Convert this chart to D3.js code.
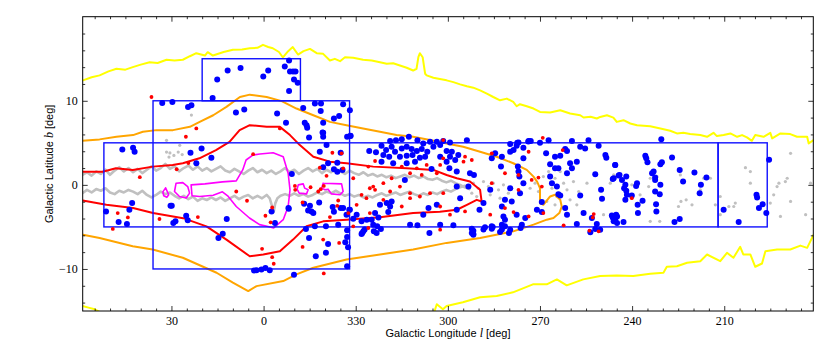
<!DOCTYPE html>
<html>
<head>
<meta charset="utf-8">
<script src="https://cdn.jsdelivr.net/npm/d3@7"></script>
<style>
  body { margin: 0; background: #fff; }
  .tick text { font-family: "Liberation Serif", serif; font-size: 12px; fill: #000; }
  .tick line { stroke: #000; stroke-width: 0.8; }
  .axis-title { font-family: "Liberation Sans", Arial, sans-serif; font-size: 11px; fill: #000; }
</style>
</head>
<body>
<div id="chart"></div>
<script>
// galactic longitude is stored signed: -30 means 330
const lonTicks = [30, 0, -30, -60, -90, -120, -150];
const lonLabels = ["30", "0", "330", "300", "270", "240", "210"];
const latTicks = [-10, 0, 10];
const latLabels = ["\u221210", "0", "10"];

// survey boxes [l0, l1, b0, b1]
const boxes = [
  [20, -12, 10, 15],
  [36, -28, -10, 10],
  [52, -148, -5, 5],
  [-148, -164, -5, 5],
];

const yellowUpper = [
  [58.8,12.43],[56,12.8],[53.4,13.02],[50.5,13.5],[47.9,13.81],[45,13.7],[42.6,14.0],[40,14.3],[37.1,14.59],
  [34.5,14.5],[31.6,14.88],[29,14.8],[26.3,14.88],[24,15.3],[21.9,15.66],[19.1,15.38],[18.2,15.78],[16.5,15.38],
  [13,15.8],[10.0,16.06],[7,16.1],[4.5,16.25],[2,16.3],[0.2,16.65],[-1.5,16.4],[-3.0,16.25],[-5,15.8],[-6.3,15.15],
  [-8,15.9],[-9.5,16.39],[-11.2,15.5],[-13,15.9],[-15.1,16.17],[-17.3,15.66],[-19.4,15.58],[-21.6,14.79],
  [-23.2,14.99],[-24.9,14.71],[-26.5,15.18],[-29.2,15.11],[-32.4,14.87],[-35.2,14.79],[-37.9,14.59],[-40.1,14.4],
  [-42.2,14.47],[-44.4,14.2],[-46.6,13.93],[-48.7,13.6],[-49.8,13.81],[-50.4,15.18],[-50.9,15.66],[-51.8,15.18],
  [-52.6,13.22],[-53.1,13.02],[-55.3,12.74],[-57.4,12.58],[-59.6,12.43],[-61.8,12.22],[-64.0,11.95],[-66.2,11.72],
  [-68.3,11.56],[-70.5,11.24],[-72.7,10.85],[-74.8,10.45],[-77.0,10.06],[-79.2,10.26],[-81.3,9.86],[-82.4,9.35],
  [-83.5,9.59],[-85.7,9.35],[-87.9,9.08],[-90.0,8.67],[-93.3,8.6],[-96.6,8.88],[-99.8,8.49],[-103.1,8.28],
  [-104.2,8.01],[-106.5,8.1],[-108.5,7.89],[-109.6,8.08],[-111.8,8.28],[-113.9,8.0],[-115.0,7.49],[-117.2,7.69],
  [-119.4,7.30],[-121.6,7.10],[-125.9,6.98],[-129.2,6.71],[-132.4,6.43],[-134.6,6.12],[-136.7,6.19],[-138.9,6.04],
  [-142.2,5.92],[-144.4,5.72],[-146.5,6.19],[-147.6,5.80],[-149.8,5.92],[-152.0,6.12],[-154.2,5.72],[-155.8,5.92],
  [-157.4,5.64],[-159.0,5.24],[-160.1,5.92],[-162.8,5.72],[-165.0,6.19],[-165.6,5.53],[-168.3,6.12],[-171.5,6.04],
  [-173.7,5.72],[-177.0,5.72],[-177.5,4.93],[-179.1,5.33],
];

const yellowLowerEast = [[59.0,-14.4],[57,-14.6],[55.0,-14.8],[53.4,-15.1]];

const yellowLowerWest = [
  [-55.5,-15.2],[-56.4,-14.2],[-58.4,-14.8],[-59.6,-14.4],[-64.9,-13.96],[-70.5,-13.37],[-75.9,-13.22],[-81.2,-12.78],
  [-87.7,-11.83],[-92.2,-11.83],[-95.5,-11.24],[-98.7,-11.95],[-104.1,-11.24],[-109.6,-10.85],[-115.0,-10.77],
  [-120.4,-10.85],[-125.9,-10.57],[-130.2,-10.45],[-131.3,-9.74],[-134.6,-9.67],[-137.9,-9.27],[-142.2,-9.08],
  [-144.4,-8.28],[-148.7,-9.08],[-150.9,-8.08],[-153.0,-8.67],[-155.2,-7.37],[-156.2,-8.28],[-158.5,-8.28],
  [-160.1,-9.74],[-162.3,-9.35],[-163.4,-7.89],[-167.2,-7.69],[-171.5,-7.69],[-174.8,-7.22],[-177.0,-7.49],[-179.1,-5.92],
];

const orangeContour = [
  [59.0,5.24],[53.4,5.41],[47.9,5.72],[42.5,5.92],[39.3,6.31],[34.9,6.51],[29.5,6.51],[24.0,6.90],[20.8,7.49],
  [16.4,8.28],[12.1,9.27],[7.7,10.45],[4.5,10.73],[-1.0,10.45],[-5.9,9.96],[-10.7,9.08],[-16.2,8.28],[-21.6,7.49],
  [-27.0,7.10],[-32.4,6.71],[-37.9,6.31],[-43.3,5.92],[-48.7,5.72],[-54.2,5.33],[-59.6,4.93],[-65.0,4.53],
  [-70.5,3.94],[-75.9,3.35],[-81.3,2.57],[-85.7,1.78],[-87.9,0.98],[-89.1,0.36],[-90.0,-0.39],[-90.0,-2.17],
  [-91.1,-2.37],[-93.3,-1.38],[-94.9,-1.18],[-96.6,-1.78],[-97.1,-2.60],[-96.3,-3.35],[-94.4,-3.94],[-92.2,-4.14],
  [-87.9,-4.73],[-81.3,-5.53],[-70.5,-6.31],[-59.6,-6.90],[-48.7,-7.69],[-37.9,-8.28],[-27.0,-8.88],[-16.2,-9.86],
  [-10.7,-10.65],[-6.4,-11.44],[2.3,-12.04],[5.0,-12.63],[10.0,-11.63],[15.3,-10.45],[26.3,-8.67],[36.1,-7.69],
  [42.6,-7.30],[53.4,-6.31],[58.8,-5.92],
];

const redContour = [
  [58.9,1.57],[52.4,1.57],[48.1,1.98],[42.6,1.78],[36.1,2.17],[29.6,2.37],[26.3,2.57],[20.9,3.16],[15.5,4.14],
  [11.1,5.12],[7.8,6.51],[4.5,7.10],[-1.0,6.90],[-5.3,6.90],[-8.6,5.92],[-11.8,4.73],[-16.2,3.35],[-21.6,2.76],
  [-27.0,2.57],[-35.7,2.17],[-46.6,1.98],[-55.3,1.78],[-59.6,1.18],[-62.9,0.79],[-67.2,0.39],[-70.5,-0.59],
  [-71.0,-1.98],[-69.4,-1.78],[-66.2,-2.37],[-62.9,-2.96],[-57.4,-3.20],[-48.7,-3.35],[-37.9,-3.85],[-27.0,-4.14],
  [-19.4,-4.34],[-14.0,-4.93],[-9.6,-6.51],[-5.3,-7.89],[0.1,-8.28],[4.5,-8.49],[12.1,-6.51],[18.6,-4.93],
  [26.2,-3.96],[36.0,-3.35],[42.5,-2.76],[51.2,-2.37],[58.9,-1.86],
];

const magentaMain = [
  [23.6,0.0],[19.1,0.12],[13.4,0.36],[8.9,0.47],[6.8,1.78],[5.7,2.96],[3.5,3.55],[1.2,3.67],[-3.1,3.82],
  [-6.4,3.35],[-8.0,1.38],[-8.6,-0.59],[-8.0,-2.57],[-6.4,-4.14],[-3.3,-5.12],[-1.1,-4.93],[1.3,-4.73],
  [4.6,-3.94],[8.9,-2.57],[11.7,-1.30],[13.4,-0.83],[16.4,-1.24],[20.8,-1.38],[23.3,-1.30],[23.6,0.0],
];

const magentaLoops = [
  [[31.9,-0.36],[30.9,-1.18],[31.5,-1.48],[32.5,-1.30],[32.8,-0.83],[31.9,-0.36]],
  [[28.5,0.20],[26.3,0.27],[24.7,-0.20],[24.1,-0.98],[25.2,-1.57],[27.4,-1.38],[29.0,-0.79],[28.5,0.20]],
  [[-11.3,0.0],[-12.9,0.12],[-13.4,-0.39],[-14.5,-0.59],[-14.0,-1.07],[-11.6,-0.98],[-10.9,-0.51],[-11.3,0.0]],
  [[-19.4,0.2],[-25.4,0.12],[-25.9,-0.79],[-24.9,-1.18],[-22.1,-1.07],[-21.0,-0.51],[-20.0,-0.59],[-18.9,-0.39],[-19.4,0.2]],
];

const greyUpper = [
  [59,1.2],[57.5,1.5],[56,1.1],[54.5,1.6],[53,1.3],[51.5,1.8],[50,1.2],[48.5,1.7],[47,2.1],[45.5,1.6],[44,2.0],
  [42.5,1.5],[41,1.9],[39.5,1.4],[38,1.8],[36.5,2.2],[35,1.7],[33.5,2.0],[32,2.5],[30.5,1.9],[29,2.2],[27.5,1.6],
  [26,2.0],[24.5,2.3],[23,1.8],[21.5,2.2],[20,1.7],[18.5,2.0],[17,1.6],[15.5,1.9],[14,2.2],[12.5,1.7],[11,1.5],
  [9.5,1.9],[8,1.6],[6.5,1.3],[5,1.7],[3.5,2.0],[2,1.5],[0.5,1.8],[-1,1.4],[-2.5,1.7],[-4,1.3],[-5.5,1.6],
  [-7,2.0],[-8.5,1.5],[-10,1.8],[-11.5,1.3],[-13,1.7],[-14.5,2.0],[-16,1.6],[-17.5,1.9],[-19,1.4],[-20.5,1.8],
  [-22,1.5],[-23.5,1.9],[-25,1.6],[-26.5,1.3],[-28,1.7],[-29.5,1.4],[-31,1.2],[-32.5,1.5],[-34,1.1],[-35.5,1.3],
  [-37,1.0],[-38.5,1.2],[-40,0.9],[-41.5,1.1],[-43,0.8],[-44.5,1.0],[-46,1.2],[-47.5,0.9],[-49,1.1],[-50.5,0.8],
  [-52,1.0],[-53.5,0.7],[-55,0.6],[-56.5,0.8],[-58,0.5],[-59.5,0.3],[-61,0.5],[-62.5,0.2],[-64,0.0],[-65.5,-0.3],
  [-67,-0.5],
];

const greyLower = [
  [59,-1.0],[57.5,-0.6],[56,-0.9],[54.5,-0.5],[53,-0.7],[51.5,-0.4],[50,-0.9],[48.5,-1.1],[47,-0.7],[45.5,-0.9],
  [44,-0.6],[42.5,-0.8],[41,-1.1],[39.5,-0.7],[38,-1.2],[36.5,-1.5],[35,-1.2],[33.5,-0.8],[32,-1.1],[30.5,-0.9],
  [29,-1.3],[27.5,-1.6],[26,-1.3],[24.5,-1.7],[23,-1.4],[21.5,-1.9],[20,-1.6],[18.5,-1.8],[17,-1.5],[15.5,-1.8],
  [14,-1.5],[12.5,-1.9],[11,-1.6],[9.5,-1.3],[8,-1.7],[6.5,-1.4],[5,-1.2],[3.5,-1.6],[2,-1.3],[0.5,-1.6],
  [-1,-1.2],[-2,-1.6],[-2.8,-2.6],[-3.3,-3.2],[-3.8,-2.2],[-4.5,-1.6],[-5.5,-1.3],[-7,-1.1],[-8.5,-1.3],
  [-10,-1.0],[-11.5,-1.3],[-13,-1.1],[-14.5,-1.4],[-16,-1.2],[-17.5,-0.9],[-19,-1.1],[-20.5,-0.8],[-22,-1.0],
  [-23.5,-0.7],[-25,-1.0],[-26.5,-1.3],[-28,-1.1],[-29.5,-1.4],[-31,-1.2],[-32.5,-1.5],[-34,-1.3],[-35.5,-1.5],
  [-37,-1.2],[-38.5,-1.0],[-40,-1.3],[-41.5,-1.1],[-43,-0.9],[-44.5,-1.2],[-46,-1.0],[-47.5,-0.8],[-49,-1.1],
  [-50.5,-1.3],[-52,-1.0],[-53.5,-1.2],[-55,-0.9],[-56.5,-1.1],[-58,-0.8],[-59.5,-0.6],[-61,-0.8],[-62.5,-0.5],
  [-64,-0.3],[-65.5,-0.1],[-67,-0.4],
];

const greyPatches = [
  [30.5,3.8],[29.2,3.5],[27.8,3.9],[26.5,3.6],[27.3,4.7],[23.5,8.3],[31.6,5.3],[31.6,3.9],[30.8,3.3],
  [-68.3,0.20],[-69.9,-0.40],[-71.6,0.39],[-73.2,-0.20],[-74.8,0.20],[-76.5,-0.59],[-78.1,0.0],[-79.7,-0.99],
  [-80.8,-0.40],[-67.8,-0.99],[-69.4,-1.38],[-73.8,-1.18],[-77.0,-1.58],[-86.8,-0.40],[-88.4,0.20],[-89.5,-0.79],
  [-91.1,0.99],[-92.8,1.58],[-93.9,-0.40],[-94.9,0.79],[-95.5,-1.38],[-96.6,1.58],[-97.7,0.20],[-98.8,-0.59],
  [-99.8,-1.78],[-100.9,0.39],[-102.0,-2.37],[-102.6,-0.79],[-105.3,0.2],[-110.7,-3.55],[-94.9,-2.37],[-92.2,-1.97],
  [-125.9,0.79],[-125.4,-0.2],[-128.1,0.99],[-135.7,1.18],[-135.9,-1.97],[-135.1,-2.57],[-137.6,-1.78],
  [-139.5,-2.37],[-142.2,-0.59],[-145.5,0.79],[-148.7,-1.38],[-156.9,2.05],[-158.5,1.58],[-158.5,0.20],
  [-153.6,-2.17],[-153.1,-2.57],[-151.5,-2.57],[-167.2,-0.20],[-167.8,0.2],[-170.5,0.79],[-169.9,0.39],
  [-171.6,3.75],[-171.6,-1.97],[-178.1,0.20],[-176.5,-3.55],[-168.3,-3.75],[-166.1,-1.18],[-165.0,-2.17],
  [-119.9,0.0],[-122.6,-1.18],[-125.9,-4.34],[-129.0,-4.34],[-148.7,-3.55],[-147.1,-2.37],[-114.0,1.18],
  [-112.9,0.20],[-143.3,0.79],
];

const blueSources = [
  [15.1,12.54],[11.7,13.6],[7.5,13.89],[0.1,12.9],[-1.5,13.6],[-6.9,14.08],[-8.3,14.79],[-8.6,13.49],[-9.6,13.49],
  [-10.4,13.49],[-9.9,12.54],[-11.1,12.15],[-8.3,11.16],[16.6,10.33],
  [33.0,9.74],[29.7,9.86],[24.6,9.27],[23.5,9.47],[9.0,8.6],[6.3,8.96],[-4.4,8.49],[-7.3,7.38],[-12.9,9.15],
  [-16.7,9.67],[-18.7,9.67],[-18.6,8.8],[-25.9,9.59],[-28.1,8.88],[-13.4,7.38],[-14.0,7.1],[-14.2,6.78],
  [-19.4,7.38],[-19.2,6.23],[-19.4,5.72],[-14.8,5.64],[-22.9,7.89],[-24.6,8.2],[-28.3,5.80],
  [46.0,4.22],[42.5,4.41],[42.0,3.94],[23.8,3.82],[20.2,4.34],[21.9,2.57],[17.0,3.23],[42.8,-2.17],[51.3,-3.16],
  [43.7,-2.96],[47.2,-4.41],[44.5,-4.65],[30.3,-2.49],[29.9,-2.49],[25.2,-3.67],[24.7,-4.22],[28.7,-4.34],
  [29.4,-4.53],[12.0,-4.06],[-9.2,1.3],[-8.1,-2.76],[-2.6,-3.16],[-3.7,-4.53],[-19.4,6.19],[-27.2,5.72],
  [-20.5,4.73],[-18.3,3.94],[-25.1,3.82],[-21.0,2.57],[-24.0,2.64],[-22.9,1.86],[-24.0,1.57],[-25.7,1.78],
  [-19.4,2.09],[-13.2,-2.25],[-14.5,-3.04],[-15.6,-3.16],[-16.2,-3.35],[-18.1,-2.09],[-15.1,-2.49],[-22.5,-2.64],
  [-22.9,-3.20],[-25.1,-2.76],[-27.9,-2.96],[-8.2,-2.84],[-13.8,-5.24],[-16.7,-4.93],[-20.3,-4.93],[-24.3,-4.73],
  [-27.2,-5.40],
  [13.3,-5.80],[14.7,-6.31],[-14.8,-6.31],[-21.0,-7.02],[-27.2,-6.19],[-26.6,-6.83],[-27.5,-7.42],[-17.0,-8.49],
  [-20.3,-8.08],[-27.2,-9.67],[2.3,-10.14],[0.7,-10.06],[-0.6,-9.9],[-2.0,-10.14],[3.1,-10.18],[-9.9,-10.68],
  [-28.3,5.84],[-41.2,5.21],[-43.1,5.32],[-45.0,5.44],[-47.3,5.72],[-50.1,5.32],[-52.0,4.93],[-54.2,5.13],
  [-56.4,5.13],[-58.5,5.21],[-60.7,5.05],[-66.2,5.32],[-38.4,4.65],[-39.9,4.14],[-41.7,4.54],[-42.8,3.94],
  [-45.0,4.34],[-46.6,4.54],[-48.2,4.26],[-49.9,4.02],[-51.5,4.26],[-53.3,3.94],[-55.3,4.54],[-57.5,4.73],
  [-59.6,4.02],[-61.3,3.94],[-63.4,3.55],[-34.4,4.02],[-36.6,3.87],[-39.0,3.55],[-40.9,3.35],[-44.4,3.35],
  [-46.6,3.47],[-48.5,3.55],[-50.9,3.23],[-52.6,3.35],[-57.5,3.35],[-60.7,3.35],[-62.4,2.96],[-38.4,2.76],
  [-42.2,2.56],[-46.6,2.56],[-49.3,2.76],[-54.7,1.89],[-59.6,2.76],[-60.5,1.97],[-46.0,0.59],[-62.9,1.58],
  [-67.2,1.38],[-66.7,-0.20],[-62.9,-0.20],[-64.0,-1.58],[-56.4,-2.37],[-53.7,-2.76],[-62.9,-2.96],[-41.2,-2.57],
  [-40.1,-2.17],[-41.7,-1.97],[-37.9,-2.37],[-40.6,-3.24],[-36.3,-3.35],[-37.4,-3.87],[-35.2,-4.14],[-33.6,-4.14],
  [-31.9,-4.34],[-30.3,-3.55],[-29.2,-4.02],[-28.1,-2.96],[-25.9,-2.76],[-35.7,-4.74],[-37.0,-4.93],[-32.5,-5.52],
  [-31.9,-5.84],[-36.8,-5.72],[-47.7,-4.74],[-50.1,-4.81],[-54.0,-5.72],[-57.5,-4.74],[-61.8,-4.81],[-67.8,-5.21],
  [-68.3,-5.84],[-52.0,-3.55],[-27.0,-3.55],
  [-83.0,5.05],[-86.3,5.21],[-87.0,5.21],[-92.8,5.32],[-100.4,5.21],[-105.8,5.32],[-103.1,4.54],[-104.7,4.34],
  [-109.1,4.65],[-82.4,4.65],[-81.4,4.14],[-80.3,3.94],[-84.6,4.42],[-75.4,3.75],[-74.3,3.16],[-77.6,3.35],
  [-84.6,3.16],[-92.0,3.75],[-94.9,3.35],[-96.6,3.47],[-98.2,4.26],[-98.8,4.02],[-94.9,1.97],[-93.3,2.45],
  [-99.8,2.56],[-100.4,1.97],[-102.0,2.76],[-111.3,3.55],[-111.6,3.23],[-114.5,2.37],[-68.5,1.18],[-77.3,2.17],
  [-82.8,2.17],[-83.0,1.58],[-83.3,0.99],[-93.3,0.99],[-96.0,1.97],[-98.8,1.38],[-108.0,1.26],[-114.0,0.79],
  [-115.6,1.10],[-73.8,-0.59],[-80.3,-0.40],[-83.5,-0.99],[-84.6,0.20],[-93.9,0.20],[-95.5,-0.20],[-96.0,-1.11],
  [-96.6,-1.26],[-103.1,-1.26],[-109.9,-0.59],[-110.2,-1.66],[-71.6,-2.17],[-70.3,-2.96],[-78.6,-1.78],
  [-80.8,-1.97],[-77.6,-2.57],[-78.1,-3.75],[-78.6,-4.14],[-82.4,-3.55],[-85.2,-3.95],[-84.1,-4.74],[-89.0,-2.96],
  [-90.6,-3.24],[-90.6,-2.05],[-98.2,-2.76],[-98.8,-3.55],[-104.2,-3.35],[-106.9,-3.95],[-108.5,-4.66],
  [-109.6,-5.33],[-113.4,-3.63],[-115.1,-3.75],[-114.5,-4.14],[-115.1,-4.54],[-114.0,-4.34],[-72.1,-5.05],
  [-74.3,-4.93],[-74.3,-5.21],[-77.6,-4.74],[-78.6,-4.93],[-80.3,-5.33],[-77.0,-5.60],[-68.3,-5.45],[-68.3,-5.92],
  [-102.0,-4.66],[-80.3,4.85],[-82.6,5.0],[-86.2,5.17],[-90.0,5.0],
  [-32.1,-5.72],[-32.9,-5.32],[-35.9,-5.52],[-38.2,-5.24],[-67.8,-5.72],[-71.6,-5.32],[-74.6,-5.01],[-77.6,-5.32],
  [-79.9,-5.72],[-83.7,-5.13],[-106.4,-5.64],[-108.0,-5.24],
  [-129.5,5.44],[-124.3,3.47],[-124.6,3.16],[-125.0,2.68],[-114.5,2.37],[-129.7,2.68],[-129.2,2.45],[-133.0,3.27],
  [-135.5,1.77],[-140.3,1.46],[-144.2,0.87],[-127.0,1.58],[-126.5,1.38],[-127.5,0.87],[-115.9,1.18],[-118.1,0.99],
  [-116.7,0.59],[-113.7,0.71],[-121.6,0.20],[-121.3,-0.12],[-117.8,0.00],[-117.4,-0.40],[-118.1,-0.71],
  [-118.3,-1.18],[-117.8,-1.78],[-119.9,-1.26],[-127.5,0.59],[-129.2,0.00],[-127.5,-0.79],[-129.0,-1.11],
  [-136.6,0.39],[-142.4,0.00],[-142.0,-0.99],[-123.4,-1.89],[-121.8,-2.37],[-127.8,-2.29],[-127.9,-3.16],
  [-121.9,-3.35],[-114.8,-3.55],[-113.7,-3.87],[-114.2,-4.14],[-117.2,-4.42],[-133.8,-4.42],[-135.5,-4.06],
  [-164.6,3.00],[-160.5,-1.18],[-160.7,-1.50],[-162.5,-2.29],[-161.3,-2.76],[-163.7,-3.35],[-149.8,-2.96],
  [-154.7,-4.42],
];

const redSources = [
  [36.5,10.45],[21.9,6.71],[25.3,5.72],[40.3,0.91],[28.3,1.86],[24.5,2.6],[3.4,3.65],[-5.3,6.71],[8.9,-0.79],
  [5.4,-1.89],[-0.6,-3.67],[47.5,-3.35],[44.2,-3.87],[49.1,-5.24],[33.9,-4.06],[21.4,-3.83],[-2.3,-4.46],
  [-2.8,-2.69],[-10.2,-0.12],[-10.3,-0.59],[0.5,-7.61],[-2.8,-8.6],[-3.3,-9.38],[-22.4,3.82],[-25.4,3.75],
  [-18.3,2.05],[-15.3,-0.28],[-18.6,-0.51],[-17.8,-0.79],[-24.3,-1.86],[-24.0,-2.49],[-12.7,-2.09],[-21.6,-3.83],
  [-12.7,-7.38],[-19.4,-6.51],[-24.6,-6.90],[-19.6,-10.53],[-19.6,-0.12],[-20.5,1.07],
  [-29.2,0.79],[-35.7,-0.20],[-34.6,-0.40],[-31.9,-1.18],[-33.5,-1.58],[-30.3,-2.37],[-27.6,-3.35],[-36.3,-0.59],
  [-41.2,-0.79],[-39.0,-1.78],[-44.4,-0.20],[-47.7,-0.99],[-47.7,-1.58],[-45.0,-2.57],[-50.9,-1.38],[-54.2,-0.99],
  [-58.5,-0.99],[-57.5,-2.57],[-60.7,-3.55],[-65.6,-3.16],[-34.1,-5.13],[-34.6,-3.35],[-49.9,1.97],[-53.1,2.37],
  [-56.4,1.38],[-57.5,2.37],[-58.5,3.16],[-41.7,0.79],[-34.1,2.17],[-36.3,2.84],[-47.7,1.38],[-51.5,1.18],
  [-29.2,-4.93],[-57.5,-5.33],[-25.9,1.97],[-65.1,2.76],[-65.6,3.35],[-67.8,2.96],[-39.0,0.20],[-45.0,2.17],
  [-90.9,5.60],[-86.3,3.94],[-74.3,3.75],[-97.4,4.14],[-78.6,1.38],[-83.0,1.18],[-87.3,0.59],[-89.5,0.87],
  [-90.6,-0.20],[-74.3,0.20],[-78.6,-2.76],[-73.8,-3.55],[-81.4,-3.24],[-86.3,-3.75],[-91.1,-3.35],[-107.5,-3.47],
  [-107.2,-3.87],[-97.7,-4.81],[-106.1,-5.45],[-109.1,-5.52],[-83.0,-0.59],[-58.5,5.33],[-119.9,-1.58],
];

const W = 830, H = 346;
const plot = { left: 82.7, right: 813.3, top: 16.7, bottom: 311 };

const x = d3.scaleLinear().domain([58.9, -179]).range([plot.left, plot.right]);
const y = d3.scaleLinear().domain([-15, 20]).range([plot.bottom, plot.top]);

const lonMinor = d3.range(55, -180, -5).filter((v) => v % 30 !== 0);
const latMinor = d3.range(-14, 20, 2).filter((v) => v % 10 !== 0);

const svg = d3.select("#chart").append("svg").attr("width", W).attr("height", H);

svg.append("clipPath").attr("id", "clip")
  .append("rect")
  .attr("x", plot.left).attr("y", plot.top)
  .attr("width", plot.right - plot.left).attr("height", plot.bottom - plot.top);

const line = d3.line().x((d) => x(d[0])).y((d) => y(d[1]));

const g = svg.append("g").attr("clip-path", "url(#clip)");

function drawLine(data, color, width) {
  g.append("path")
    .datum(data)
    .attr("d", line)
    .attr("fill", "none")
    .attr("stroke", color)
    .attr("stroke-width", width)
    .attr("stroke-linejoin", "round")
    .attr("stroke-linecap", "round");
}

// gas band
drawLine(greyUpper, "#c0c0c0", 2.6);
drawLine(greyLower, "#c0c0c0", 2.6);
g.append("g")
  .selectAll("circle")
  .data(greyPatches)
  .join("circle")
  .attr("cx", (d) => x(d[0]))
  .attr("cy", (d) => y(d[1]))
  .attr("r", 1.6)
  .attr("fill", "#c0c0c0");

// contours
drawLine(yellowUpper, "#ffff00", 2);
drawLine(yellowLowerEast, "#ffff00", 2);
drawLine(yellowLowerWest, "#ffff00", 2);
drawLine(orangeContour, "#ffa500", 2);
drawLine(redContour, "#ff0000", 2);
drawLine(magentaMain, "#ff00ff", 1.6);
magentaLoops.forEach((loop) => drawLine(loop, "#ff00ff", 1.6));

// survey boxes
g.append("g")
  .selectAll("rect")
  .data(boxes)
  .join("rect")
  .attr("x", (d) => x(d[0]))
  .attr("y", (d) => y(d[3]))
  .attr("width", (d) => x(d[1]) - x(d[0]))
  .attr("height", (d) => y(d[2]) - y(d[3]))
  .attr("fill", "none")
  .attr("stroke", "#1010ff")
  .attr("stroke-width", 1.4);

// sources
g.append("g")
  .selectAll("circle")
  .data(blueSources)
  .join("circle")
  .attr("cx", (d) => x(d[0]))
  .attr("cy", (d) => y(d[1]))
  .attr("r", 3)
  .attr("fill", "#0000ff");

g.append("g")
  .selectAll("circle")
  .data(redSources)
  .join("circle")
  .attr("cx", (d) => x(d[0]))
  .attr("cy", (d) => y(d[1]))
  .attr("r", 1.9)
  .attr("fill", "#ff0000");

// axes, ticks pointing inwards on all four sides
function axis(gen, tx, ty, values, labels, size) {
  const a = gen
    .tickValues(values)
    .tickSizeInner(-size)
    .tickSizeOuter(0)
    .tickPadding(5)
    .tickFormat(labels ? (d, i) => labels[i] : "");
  svg.append("g")
    .attr("transform", `translate(${tx},${ty})`)
    .call(a)
    .call((s) => s.select(".domain").remove());
}

axis(d3.axisBottom(x), 0, plot.bottom, lonTicks, lonLabels, 5);
axis(d3.axisBottom(x), 0, plot.bottom, lonMinor, null, 2.5);
axis(d3.axisTop(x), 0, plot.top, lonTicks, null, 5);
axis(d3.axisTop(x), 0, plot.top, lonMinor, null, 2.5);
axis(d3.axisLeft(y), plot.left, 0, latTicks, latLabels, 5);
axis(d3.axisLeft(y), plot.left, 0, latMinor, null, 2.5);
axis(d3.axisRight(y), plot.right, 0, latTicks, null, 5);
axis(d3.axisRight(y), plot.right, 0, latMinor, null, 2.5);

svg.append("rect")
  .attr("x", plot.left).attr("y", plot.top)
  .attr("width", plot.right - plot.left).attr("height", plot.bottom - plot.top)
  .attr("fill", "none")
  .attr("stroke", "#000")
  .attr("stroke-width", 1);

const xTitle = svg.append("text")
  .attr("class", "axis-title")
  .attr("x", (plot.left + plot.right) / 2)
  .attr("y", 337)
  .attr("text-anchor", "middle");
xTitle.append("tspan").text("Galactic Longitude ");
xTitle.append("tspan").attr("font-family", "Liberation Serif, serif").attr("font-style", "italic").attr("font-size", 12).text("l");
xTitle.append("tspan").text(" [deg]");

const yTitle = svg.append("text")
  .attr("class", "axis-title")
  .attr("transform", `translate(53,${(plot.top + plot.bottom) / 2}) rotate(-90)`)
  .attr("text-anchor", "middle");
yTitle.append("tspan").text("Galactic Latitude ");
yTitle.append("tspan").attr("font-family", "Liberation Serif, serif").attr("font-style", "italic").attr("font-size", 12).text("b");
yTitle.append("tspan").text(" [deg]");
</script>
</body>
</html>
